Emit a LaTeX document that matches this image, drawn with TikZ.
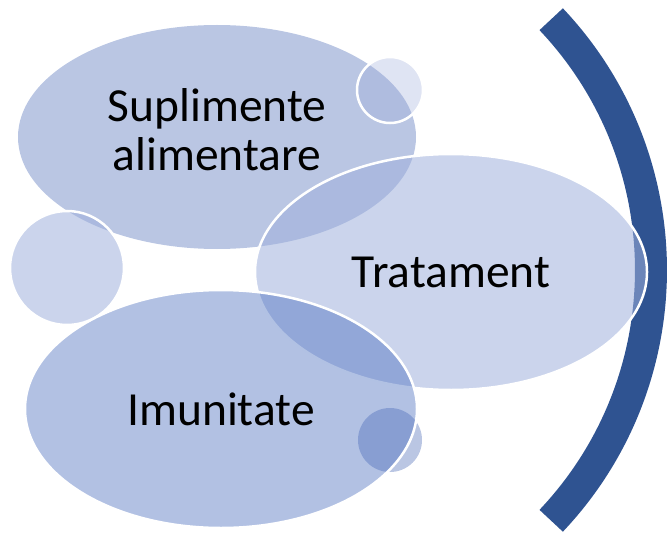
\documentclass[tikz,border=0pt]{standalone}
\usepackage{fontspec}
\setmainfont{Carlito}
\usetikzlibrary{shapes.geometric}
\definecolor{sfill}{RGB}{117,141,199}
\definecolor{tfill}{RGB}{159,176,220}
\definecolor{ifill}{RGB}{62,100,186}
\definecolor{cfill}{RGB}{150,165,215}
\definecolor{arcblue}{RGB}{47,83,145}
\tikzset{
  bubble/.style={ellipse, inner sep=0pt, draw=white, line width=2.5pt, text opacity=1,
    font=\fontsize{47.5}{49}\selectfont, align=center, text=black},
  sbub/.style={bubble, fill=sfill, fill opacity=0.5},
  tbub/.style={bubble, fill=tfill, fill opacity=0.54},
  ibub/.style={bubble, fill=ifill, fill opacity=0.4},
  cbub/.style={circle, inner sep=0pt, draw=white, line width=2.5pt},
  band/.style={line width=32pt, draw=arcblue}
}
\begin{document}
\begin{tikzpicture}[x=1pt,y=-1pt]
\useasboundingbox (0,0) rectangle (671,540);
\node[sbub, draw=none, minimum width=398pt, minimum height=224pt] (sup) at (217,137) {};
\node[font=\fontsize{47.5}{49}\selectfont, align=center, inner sep=0pt] (suptext) at (217,130) {Suplimente\\alimentare};
\node[cbub, fill=cfill, fill opacity=0.3, minimum size=66pt] (ctop) at (390,90) {};
\node[cbub, fill=tfill, fill opacity=0.54, minimum size=114pt] (cleft) at (67,268) {};
\coordinate (arcc) at (286,270);
\draw[band] ([shift={(-43.4:365)}]arcc) arc[start angle=-43.4, end angle=43.4, radius=365];
\node[tbub, minimum width=392pt, minimum height=236pt] (trat) at (451,272) {Tratament};
\node[cbub, draw=none, fill=sfill, fill opacity=0.5, minimum size=64pt] (cbot) at (390,440) {};
\node[ibub, minimum width=392pt, minimum height=238pt] (imun) at (221,409) {Imunitate};
\end{tikzpicture}
\end{document}
